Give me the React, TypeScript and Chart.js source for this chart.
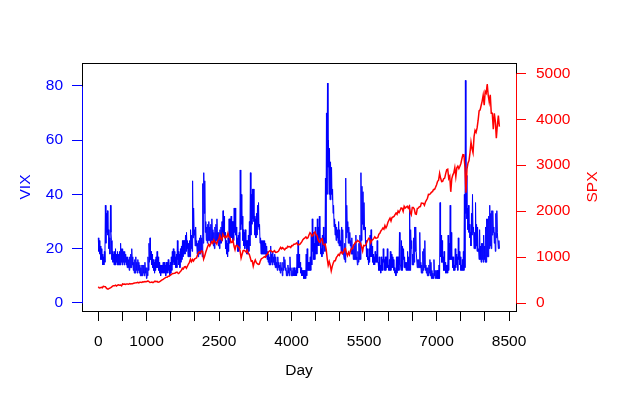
import { useEffect, useRef } from 'react';
import { Chart, registerables } from 'chart.js';

Chart.register(...registerables);

const FONT = '"Liberation Sans", Arial, Helvetica, sans-serif';
const BLUE = '#0000FF';
const RED = '#FF0000';

const LAST_DAY = 8300;
const xTicks = [0, 500, 1000, 1500, 2000, 2500, 3000, 3500, 4000, 4500, 5000, 5500, 6000, 6500, 7000, 7500, 8000, 8500];
const xLabels = [0, 1000, 2500, 4000, 5500, 7000, 8500];
const vixTicks = [0, 20, 40, 60, 80];
const spxTicks = [0, 1000, 2000, 3000, 4000, 5000];

// VIX: monthly high / low readings, Jan 1990 .. Dec 2022
const vix = [
  24, 19, 23, 18, 21, 16, 20, 16, 18, 14, 17, 14, 19, 15, 36, 22, 33, 26, 34, 25, 27, 20, 24, 18,
  36, 26, 23, 16, 19, 15, 18, 14, 19, 14, 20, 15, 18, 14, 19, 14, 18, 14, 19, 14, 22, 15, 20, 14,
  20, 15, 19, 14, 19, 15, 18, 14, 17, 13, 17, 13, 16, 12, 17, 13, 18, 13, 20, 14, 17, 12, 15, 11,
  16, 11, 17, 12, 15, 11, 16, 12, 15, 11, 14, 10, 13, 10, 14, 10, 14, 11, 14, 10, 15, 11, 13, 9,
  13, 10, 17, 12, 22, 15, 24, 16, 19, 14, 18, 13, 16, 12, 15, 11, 16, 12, 17, 13, 19, 13, 17, 12,
  15, 11, 14, 10, 14, 11, 14, 11, 15, 11, 15, 11, 14, 10, 15, 11, 15, 11, 16, 12, 14, 10, 15, 11,
  17, 12, 19, 14, 20, 15, 19, 14, 17, 13, 18, 13, 23, 16, 19, 14, 18, 13, 20, 15, 21, 16, 23, 17,
  23, 18, 23, 18, 25, 19, 26, 20, 23, 17, 22, 17, 23, 17, 27, 20, 25, 19, 45, 24, 35, 25, 27, 21,
  28, 21, 23, 18, 22, 17, 23, 18, 24, 18, 25, 19, 24, 17, 44, 22, 48, 33, 45, 26, 30, 23, 28, 22,
  29, 23, 30, 23, 28, 22, 29, 23, 31, 23, 27, 21, 26, 20, 28, 22, 29, 23, 31, 23, 26, 21, 26, 20,
  27, 22, 28, 22, 30, 23, 34, 25, 32, 24, 26, 20, 23, 18, 22, 17, 24, 19, 31, 22, 31, 24, 32, 24,
  30, 23, 30, 23, 35, 26, 35, 25, 28, 21, 24, 19, 25, 19, 26, 20, 49, 27, 40, 29, 32, 23, 27, 21,
  26, 20, 27, 21, 23, 18, 23, 18, 25, 19, 30, 21, 48, 25, 40, 29, 42, 31, 42, 30, 32, 25, 31, 24,
  33, 25, 36, 28, 37, 27, 29, 22, 24, 18, 23, 18, 23, 18, 23, 18, 23, 18, 22, 17, 21, 16, 19, 15,
  18, 14, 17, 14, 21, 15, 18, 14, 19, 15, 17, 14, 18, 13, 17, 13, 15, 12, 17, 13, 15, 12, 14, 11,
  15, 12, 13, 10, 15, 12, 17, 13, 16, 12, 13, 10, 12, 10, 14, 11, 13, 10, 17, 12, 13, 10, 12, 10,
  13, 10, 13, 10, 12, 10, 13, 10, 18, 11, 23, 13, 18, 13, 15, 11, 13, 10, 12, 10, 12, 9, 12, 9,
  12, 9, 18, 10, 20, 12, 15, 12, 15, 12, 17, 12, 25, 14, 31, 19, 26, 16, 22, 16, 28, 18, 25, 18,
  31, 21, 28, 21, 32, 24, 24, 18, 20, 17, 25, 18, 28, 21, 24, 19, 46, 22, 70, 40, 81, 50, 60, 40,
  57, 38, 52, 40, 50, 38, 42, 33, 36, 28, 31, 25, 29, 23, 28, 24, 27, 22, 30, 21, 27, 21, 23, 19,
  28, 18, 27, 19, 19, 16, 22, 15, 46, 24, 36, 26, 30, 22, 28, 22, 26, 21, 23, 18, 24, 18, 20, 16,
  21, 16, 22, 16, 25, 16, 17, 14, 19, 15, 22, 16, 25, 16, 48, 23, 43, 29, 41, 27, 37, 27, 28, 22,
  23, 17, 20, 16, 17, 14, 20, 15, 25, 17, 27, 17, 21, 15, 18, 14, 17, 14, 19, 15, 18, 15, 23, 15,
  15, 12, 17, 12, 14, 11, 17, 12, 16, 12, 20, 15, 16, 12, 17, 12, 17, 13, 20, 13, 14, 12, 16, 12,
  19, 12, 18, 13, 17, 13, 16, 12, 13, 11, 12, 10, 17, 11, 17, 12, 17, 12, 26, 14, 14, 12, 23, 12,
  21, 16, 20, 13, 17, 13, 15, 12, 15, 12, 19, 12, 17, 12, 36, 12, 27, 20, 23, 14, 18, 14, 24, 15,
  28, 19, 28, 19, 19, 13, 16, 13, 16, 13, 26, 13, 15, 11, 14, 11, 19, 12, 20, 13, 23, 12, 14, 11,
  13, 10, 13, 10, 14, 11, 16, 10, 15, 9, 12, 9, 11, 9, 16, 10, 12, 9, 12, 9, 12, 9, 12, 9,
  14, 9, 37, 17, 25, 15, 23, 15, 17, 12, 19, 12, 15, 11, 14, 11, 14, 11, 25, 12, 22, 16, 36, 16,
  26, 16, 17, 13, 17, 12, 14, 12, 20, 13, 18, 14, 17, 12, 24, 16, 19, 14, 17, 12, 14, 12, 16, 12,
  19, 12, 40, 13, 82, 33, 47, 31, 35, 27, 36, 26, 29, 24, 26, 21, 33, 25, 40, 26, 28, 20, 26, 20,
  37, 21, 29, 19, 28, 19, 20, 16, 27, 16, 21, 15, 22, 16, 22, 15, 25, 16, 21, 15, 28, 15, 31, 17,
  31, 17, 32, 20, 36, 21, 33, 20, 34, 25, 34, 26, 28, 22, 26, 19, 33, 24, 34, 26, 26, 20, 23, 20,
];

// S&P 500: start of Jan 1990, then month-end levels through Dec 2022
const spx = [
  353,
  329, 332, 340, 331, 361, 358, 356, 323, 306, 304, 322, 330,
  344, 367, 375, 375, 390, 371, 388, 395, 388, 392, 375, 417,
  409, 413, 404, 415, 415, 408, 424, 414, 418, 419, 431, 436,
  439, 443, 452, 440, 450, 451, 448, 464, 459, 468, 462, 466,
  481, 467, 446, 451, 457, 444, 458, 475, 463, 472, 454, 459,
  470, 487, 501, 515, 533, 545, 562, 562, 584, 582, 605, 616,
  636, 640, 646, 654, 669, 671, 640, 652, 687, 705, 757, 741,
  786, 791, 757, 801, 848, 885, 954, 899, 947, 915, 955, 970,
  980, 1049, 1102, 1112, 1091, 1134, 1121, 957, 1017, 1099, 1164, 1229,
  1280, 1238, 1286, 1335, 1302, 1373, 1329, 1320, 1283, 1363, 1389, 1469,
  1394, 1366, 1499, 1452, 1421, 1455, 1431, 1518, 1437, 1429, 1315, 1320,
  1366, 1240, 1160, 1249, 1256, 1224, 1211, 1134, 980, 1060, 1139, 1148,
  1130, 1107, 1147, 1076, 1067, 990, 912, 916, 800, 886, 936, 880,
  856, 841, 848, 917, 964, 975, 990, 1008, 996, 1051, 1058, 1112,
  1131, 1145, 1126, 1107, 1121, 1141, 1102, 1104, 1115, 1130, 1174, 1212,
  1181, 1204, 1181, 1157, 1192, 1191, 1234, 1220, 1229, 1207, 1249, 1248,
  1280, 1281, 1295, 1311, 1270, 1270, 1277, 1304, 1336, 1378, 1401, 1418,
  1438, 1407, 1421, 1482, 1531, 1503, 1455, 1474, 1527, 1549, 1481, 1468,
  1379, 1331, 1323, 1386, 1400, 1280, 1267, 1283, 1166, 969, 820, 903,
  826, 700, 798, 873, 919, 919, 987, 1021, 1057, 1036, 1096, 1115,
  1074, 1104, 1169, 1187, 1089, 1031, 1102, 1049, 1141, 1183, 1181, 1258,
  1286, 1327, 1326, 1364, 1345, 1321, 1292, 1219, 1131, 1253, 1247, 1258,
  1312, 1366, 1408, 1398, 1310, 1362, 1379, 1407, 1441, 1412, 1416, 1426,
  1498, 1515, 1569, 1598, 1631, 1606, 1686, 1633, 1682, 1757, 1806, 1848,
  1783, 1859, 1872, 1884, 1924, 1960, 1931, 2003, 1972, 2018, 2068, 2059,
  1995, 2105, 2068, 2086, 2107, 2063, 2104, 1972, 1920, 2079, 2080, 2044,
  1940, 1932, 2060, 2065, 2097, 2099, 2174, 2171, 2168, 2126, 2199, 2239,
  2279, 2364, 2363, 2384, 2412, 2423, 2470, 2472, 2519, 2575, 2648, 2674,
  2824, 2714, 2641, 2648, 2705, 2718, 2816, 2902, 2914, 2712, 2760, 2420,
  2704, 2784, 2834, 2946, 2752, 2942, 2980, 2926, 2977, 3038, 3141, 3231,
  3226, 2954, 2400, 2912, 3044, 3100, 3271, 3500, 3363, 3270, 3622, 3756,
  3714, 3811, 3973, 4181, 4204, 4298, 4395, 4523, 4308, 4605, 4567, 4766,
  4516, 4374, 4530, 4132, 4132, 3785, 4130, 3955, 3586, 3872, 4080, 3840,
];

const toPoints = (arr: number[]) =>
  arr.map((y, i) => ({ x: (i * LAST_DAY) / (arr.length - 1), y }));

const framePlugin = {
  id: 'frame',
  afterDraw(chart: any) {
    const { ctx, chartArea, scales } = chart;
    const { left, right, top, bottom } = chartArea;
    ctx.save();
    ctx.lineWidth = 1;
    ctx.strokeStyle = '#000000';
    ctx.strokeRect(left + 0.5, top + 0.5, right - left, bottom - top);
    // left VIX axis line
    ctx.strokeStyle = BLUE;
    ctx.beginPath();
    ctx.moveTo(left + 0.5, Math.round(scales.y.getPixelForValue(vixTicks[0])) + 0.5);
    ctx.lineTo(left + 0.5, Math.round(scales.y.getPixelForValue(vixTicks[vixTicks.length - 1])) + 0.5);
    ctx.stroke();
    // right SPX axis line
    ctx.strokeStyle = RED;
    ctx.beginPath();
    ctx.moveTo(right + 0.5, Math.round(scales.y1.getPixelForValue(spxTicks[0])) + 0.5);
    ctx.lineTo(right + 0.5, Math.round(scales.y1.getPixelForValue(spxTicks[spxTicks.length - 1])) + 0.5);
    ctx.stroke();
    // right axis title (reads bottom-to-top)
    ctx.fillStyle = RED;
    ctx.font = `15.5px ${FONT}`;
    ctx.textAlign = 'center';
    ctx.textBaseline = 'middle';
    ctx.translate(593, (top + bottom) / 2);
    ctx.rotate(-Math.PI / 2);
    ctx.fillText('SPX', 0, 0);
    ctx.restore();
  },
};

export default function App() {
  const ref = useRef<HTMLCanvasElement>(null);

  useEffect(() => {
    if (!ref.current) return;
    const font = { family: FONT, size: 15.5 };
    const chart = new Chart(ref.current, {
      type: 'line',
      data: {
        datasets: [
          {
            label: 'SPX',
            data: toPoints(spx),
            yAxisID: 'y1',
            borderColor: RED,
            borderWidth: 1.5,
            pointRadius: 0,
            tension: 0,
          },
          {
            label: 'VIX',
            data: toPoints(vix),
            yAxisID: 'y',
            borderColor: BLUE,
            borderWidth: 1,
            pointRadius: 0,
            tension: 0,
          },
        ],
      },
      options: {
        responsive: false,
        animation: false,
        devicePixelRatio: 1,
        layout: { padding: { top: 63, left: 0, right: 0, bottom: 0 } },
        plugins: { legend: { display: false }, tooltip: { enabled: false } },
        scales: {
          x: {
            type: 'linear',
            position: 'bottom',
            min: -337,
            max: 8644,
            afterBuildTicks: (s: any) => {
              s.ticks = xTicks.map((v) => ({ value: v }));
            },
            afterFit: (s: any) => {
              s.height = 84;
            },
            grid: { drawOnChartArea: false, drawTicks: true, tickLength: 10, color: '#000000', lineWidth: 1 },
            border: { display: false },
            ticks: {
              autoSkip: false,
              maxRotation: 0,
              padding: 11,
              color: '#000000',
              font,
              callback: (v: any) => (xLabels.includes(Number(v)) ? String(v) : ''),
            },
            title: { display: true, text: 'Day', color: '#000000', font, padding: { top: 0, bottom: 15 } },
          },
          y: {
            type: 'linear',
            position: 'left',
            min: -2.95,
            max: 88.4,
            afterBuildTicks: (s: any) => {
              s.ticks = vixTicks.map((v) => ({ value: v }));
            },
            afterFit: (s: any) => {
              s.width = 82;
            },
            grid: { drawOnChartArea: false, drawTicks: true, tickLength: 10, color: BLUE, lineWidth: 1 },
            border: { display: false },
            ticks: { padding: 9, color: BLUE, font, callback: (v: any) => String(v) },
            title: { display: true, text: 'VIX', color: BLUE, font, padding: { top: 16, bottom: 0 } },
          },
          y1: {
            type: 'linear',
            position: 'right',
            min: -174,
            max: 5224,
            afterBuildTicks: (s: any) => {
              s.ticks = spxTicks.map((v) => ({ value: v }));
            },
            afterFit: (s: any) => {
              s.width = 102;
            },
            grid: { drawOnChartArea: false, drawTicks: true, tickLength: 10, color: RED, lineWidth: 1 },
            border: { display: false },
            ticks: { padding: 10, color: RED, font, callback: (v: any) => String(v) },
            title: { display: false },
          },
        },
      },
      plugins: [framePlugin],
    });
    return () => chart.destroy();
  }, []);

  return (
    <div style={{ position: 'fixed', left: 0, top: 0, width: 618, height: 395, background: '#ffffff' }}>
      <canvas ref={ref} width={618} height={395} style={{ display: 'block' }} />
    </div>
  );
}
